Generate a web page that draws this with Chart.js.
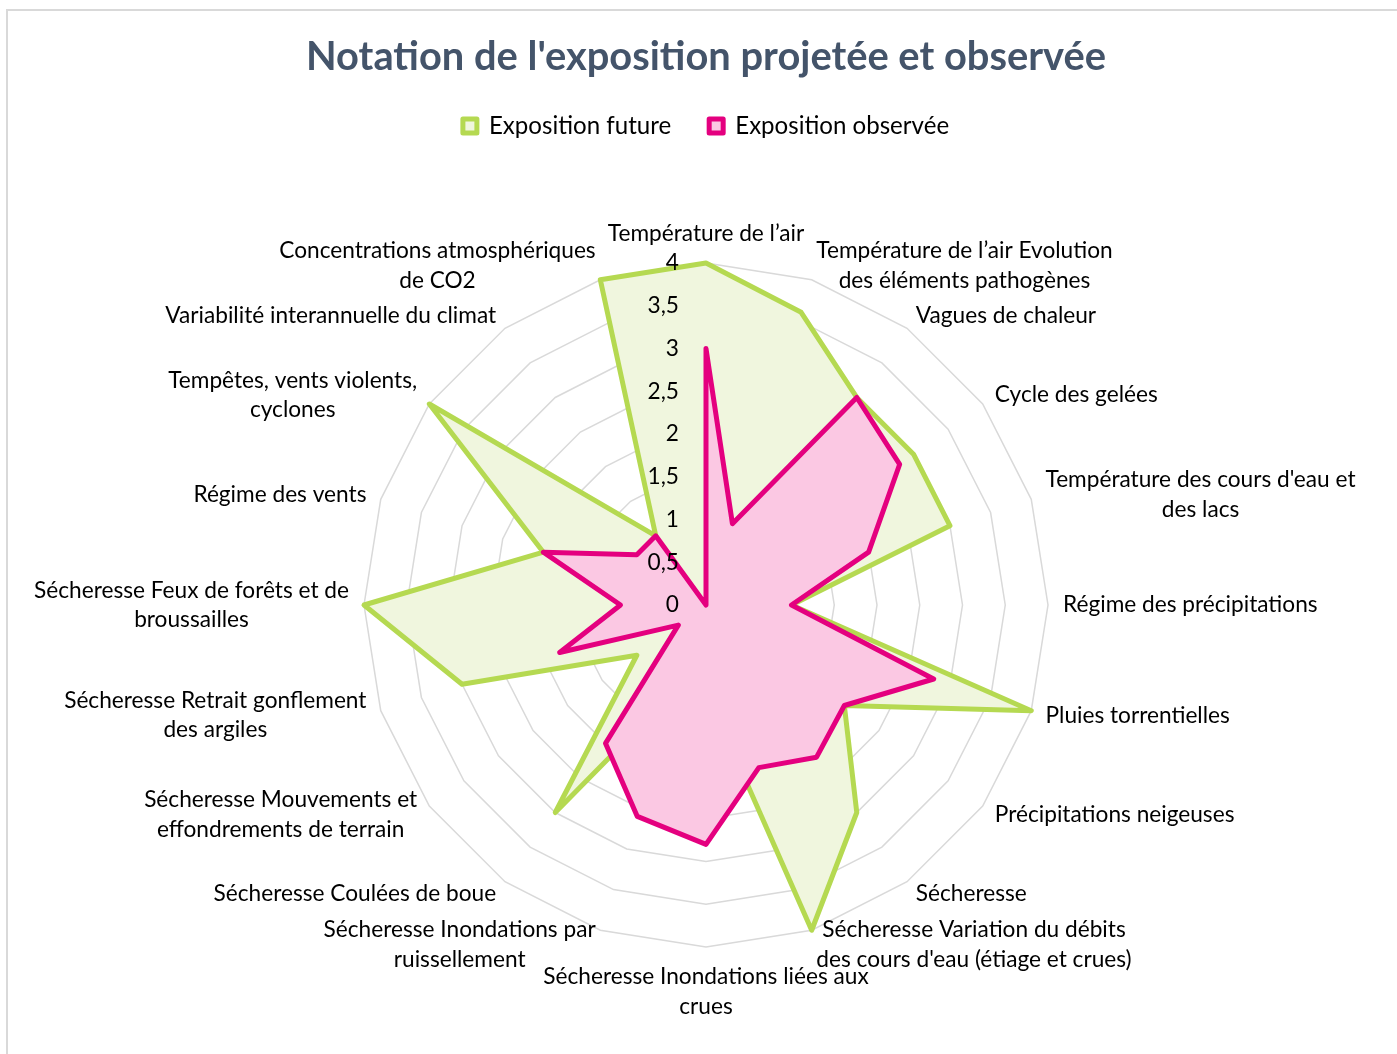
<!DOCTYPE html>
<html lang="fr">
<head>
<meta charset="utf-8">
<title>Notation de l'exposition projetée et observée</title>
<script src="https://cdn.jsdelivr.net/npm/chart.js@4/dist/chart.umd.min.js"></script>
<style>
  html, body { margin: 0; padding: 0; background: #ffffff; overflow: hidden; }
  #frame { position: absolute; left: 6px; top: 9px; width: 1700px; height: 1400px;
           border: 2px solid #d9d9d9; box-sizing: border-box; }
  #wrap { position: absolute; left: 0; top: 0; width: 1397px; height: 1054px; }
</style>
</head>
<body>
<div id="frame"></div>
<div id="wrap"><canvas id="c" width="1397" height="1054"></canvas></div>
<script>
// ---------- DATA ----------
const TITLE = "Notation de l'exposition projetée et observée";
const SERIES_NAMES = ["Exposition future", "Exposition observée"];
const CATEGORIES = [
  "Température de l’air",
  ["Température de l’air Evolution", "des éléments pathogènes"],
  "Vagues de chaleur",
  "Cycle des gelées",
  ["Température des cours d'eau et", "des lacs"],
  "Régime des précipitations",
  "Pluies torrentielles",
  "Précipitations neigeuses",
  "Sécheresse",
  ["Sécheresse Variation du débits", "des cours d'eau (étiage et crues)"],
  ["Sécheresse Inondations liées aux", "crues"],
  ["Sécheresse Inondations par", "ruissellement"],
  "Sécheresse Coulées de boue",
  ["Sécheresse Mouvements et", "effondrements de terrain"],
  ["Sécheresse Retrait gonflement", "des argiles"],
  ["Sécheresse Feux de forêts et de", "broussailles"],
  "Régime des vents",
  ["Tempêtes, vents violents,", "cyclones"],
  "Variabilité interannuelle du climat",
  ["Concentrations atmosphériques", "de CO2"]
];
const FUTURE   = [4, 3.6, 3, 3, 3, 1, 4, 2, 3, 4, 1, 1, 3, 1, 3, 4, 2, 4, 1, 4];
const OBSERVED = [3, 1, 3, 2.8, 2, 1, 2.8, 2, 2.2, 2, 2.8, 2.6, 2, 0.4, 1.8, 1, 2, 1, 1, 0];
const TICK_LABELS = ["0", "0,5", "1", "1,5", "2", "2,5", "3", "3,5", "4"];

// ---------- STYLE ----------
const FONT = "Lato";
const GREEN_LINE = "#b5d951", GREEN_FILL = "#f0f6de";
const PINK_LINE = "#e4007f", PINK_FILL = "#fbc8e3";

function fitSize(text, weight, target, base) {
  const c = document.createElement("canvas").getContext("2d");
  c.font = `${weight} ${base}px ${FONT}`;
  return base * target / c.measureText(text).width;
}
const LABEL_SIZE = fitSize("Variabilité interannuelle du climat", "normal", 331, 24);
const LEGEND_SIZE = fitSize("Exposition observée", "normal", 214, 24);
const TITLE_SIZE = fitSize(TITLE, "bold", 800, 40);
const LINE_H = 29.5;

const excelLabels = {
  id: "excelLabels",
  afterDatasetsDraw(chart) {
    const s = chart.scales.r;
    const ctx = chart.ctx;
    ctx.save();
    ctx.font = `${LABEL_SIZE}px ${FONT}`;
    ctx.fillStyle = "#000000";
    ctx.textBaseline = "middle";
    ctx.textAlign = "center";
    s._pointLabels.forEach((lab, i) => {
      const lines = Array.isArray(lab) ? lab : [lab];
      const w = Math.max(...lines.map(l => ctx.measureText(l).width));
      const h = lines.length * LINE_H;
      const deg = Math.round(s.getIndexAngle(i) * 180 / Math.PI) % 360;
      const p = s.getPointPosition(i, s.drawingArea + 15);
      let cx, top;
      if (deg === 0) { cx = p.x; top = p.y - h; }
      else if (deg === 180) { cx = p.x; top = p.y; }
      else if (deg < 180) { cx = p.x + w / 2; top = p.y - h / 2; }
      else { cx = p.x - w / 2; top = p.y - h / 2; }
      lines.forEach((l, k) => ctx.fillText(l, cx, top + LINE_H * (k + 0.5)));
    });
    ctx.textAlign = "right";
    s.ticks.forEach((t, k) => {
      const y = s.yCenter - s.getDistanceFromCenterForValue(t.value);
      ctx.fillText(TICK_LABELS[k], s.xCenter - 27, y);
    });
    ctx.restore();
  }
};

new Chart(document.getElementById("c"), {
  type: "radar",
  data: {
    labels: CATEGORIES,
    datasets: [
      { label: SERIES_NAMES[0], data: FUTURE, borderColor: GREEN_LINE, backgroundColor: GREEN_FILL,
        borderWidth: 5, fill: "origin", pointRadius: 0, pointHoverRadius: 0,
        borderJoinStyle: "round", tension: 0, order: 1 },
      { label: SERIES_NAMES[1], data: OBSERVED, borderColor: PINK_LINE, backgroundColor: PINK_FILL,
        borderWidth: 5, fill: "origin", pointRadius: 0, pointHoverRadius: 0,
        borderJoinStyle: "round", tension: 0, order: 0 }
    ]
  },
  options: {
    responsive: false,
    animation: false,
    layout: { padding: { left: 15, right: 0, top: 0, bottom: 106 } },
    plugins: {
      title: {
        display: true, text: TITLE, color: "#44546a",
        font: { family: FONT, weight: "bold", size: TITLE_SIZE, lineHeight: "38px" },
        padding: { top: 38, bottom: 0 }
      },
      legend: {
        display: true, position: "top",
        labels: {
          color: "#000000", boxWidth: 14, boxHeight: 14, padding: 38,
          font: { family: FONT, size: LEGEND_SIZE },
          sort: (a, b) => a.datasetIndex - b.datasetIndex
        }
      },
      subtitle: {
        display: true, text: " ", weight: 500,
        font: { size: 10, lineHeight: "16px" },
        padding: { top: 99, bottom: 0 }
      },
      tooltip: { enabled: false }
    },
    scales: {
      r: {
        min: 0, max: 4,
        ticks: { stepSize: 0.5, display: false },
        grid: { circular: false, color: "#d9d9d9", lineWidth: 1.5 },
        angleLines: { display: false },
        pointLabels: { display: false }
      }
    }
  },
  plugins: [excelLabels]
});
</script>
</body>
</html>
